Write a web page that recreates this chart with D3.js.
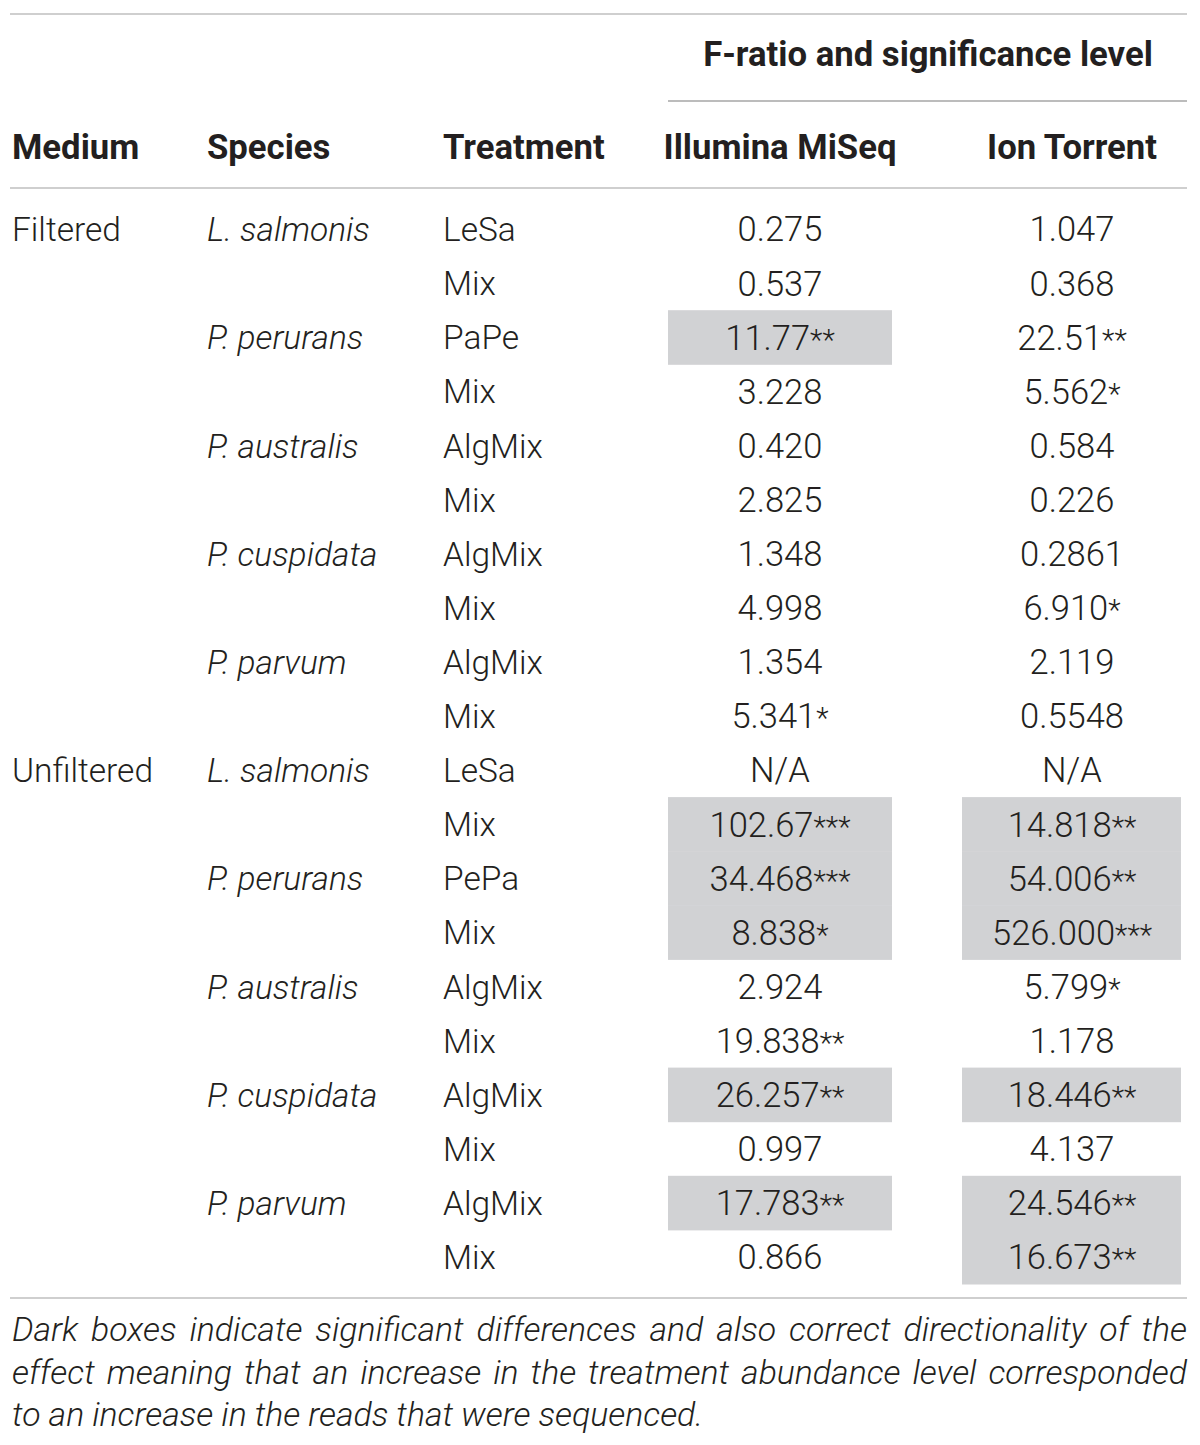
<!DOCTYPE html>
<html>
<head>
<meta charset="utf-8">
<script src="https://cdn.jsdelivr.net/npm/d3@7"></script>
<style>
  body { margin: 0; background: #fff; }
  svg text { font-family: Roboto, "Liberation Sans", sans-serif; fill: #231f20; }
  .body { font-weight: 300; font-size: 33.5px; }
  .num { font-size: 34.5px; }
  .head { font-weight: 700; font-size: 34.7px; }
  .cap { font-weight: 300; font-size: 33.8px; font-style: italic; }
</style>
</head>
<body>
<div id="chart"></div>
<script>
// table content, one entry per row
var medium = ["Filtered", "", "", "", "", "", "", "", "", "",
              "Unfiltered", "", "", "", "", "", "", "", "", ""];
var species = ["L. salmonis", "", "P. perurans", "", "P. australis", "", "P. cuspidata", "", "P. parvum", "",
               "L. salmonis", "", "P. perurans", "", "P. australis", "", "P. cuspidata", "", "P. parvum", ""];
var treatment = ["LeSa", "Mix", "PaPe", "Mix", "AlgMix", "Mix", "AlgMix", "Mix", "AlgMix", "Mix",
                 "LeSa", "Mix", "PePa", "Mix", "AlgMix", "Mix", "AlgMix", "Mix", "AlgMix", "Mix"];
var illumina = ["0.275", "0.537", "11.77", "3.228", "0.420", "2.825", "1.348", "4.998", "1.354", "5.341",
                "N/A", "102.67", "34.468", "8.838", "2.924", "19.838", "26.257", "0.997", "17.783", "0.866"];
var illuminaStars = ["", "", "**", "", "", "", "", "", "", "*",
                     "", "***", "***", "*", "", "**", "**", "", "**", ""];
var ionTorrent = ["1.047", "0.368", "22.51", "5.562", "0.584", "0.226", "0.2861", "6.910", "2.119", "0.5548",
                  "N/A", "14.818", "54.006", "526.000", "5.799", "1.178", "18.446", "4.137", "24.546", "16.673"];
var ionStars = ["", "", "**", "*", "", "", "", "*", "", "",
                "", "**", "**", "***", "*", "", "**", "", "**", "**"];
// dark boxes (significant + correct direction)
var illuminaBox = [0, 0, 1, 0, 0, 0, 0, 0, 0, 0, 0, 1, 1, 1, 0, 0, 1, 0, 1, 0];
var ionBox = [0, 0, 0, 0, 0, 0, 0, 0, 0, 0, 0, 1, 1, 1, 0, 0, 1, 0, 1, 1];

var headers = ["Medium", "Species", "Treatment", "Illumina MiSeq", "Ion Torrent"];
var groupHeader = "F-ratio and significance level";
var captionLines = [
    "Dark boxes indicate significant differences and also correct directionality of the",
    "effect meaning that an increase in the treatment abundance level corresponded",
    "to an increase in the reads that were sequenced."
];

var width = 1200, height = 1445;
var left = 10, right = 1187;

var svg = d3.select("#chart").append("svg")
    .attr("width", width)
    .attr("height", height);

// rows
var y = d3.scaleBand().domain(d3.range(treatment.length)).range([202, 1284]);

// column anchors
var col = {
    medium: 12, species: 207, treatment: 443,
    ill: 780, ion: 1072
};
var box = {
    ill: [668, 892],
    ion: [962, 1181]
};

// shaded cells
function shade(flags, key) {
    svg.selectAll("rect." + key)
        .data(flags.map(function (f, i) { return {f: f, i: i}; }).filter(function (d) { return d.f; }))
        .enter().append("rect")
        .attr("class", key)
        .attr("x", box[key][0])
        .attr("width", box[key][1] - box[key][0])
        .attr("y", function (d) { return y(d.i); })
        .attr("height", y.bandwidth() + 0.5)
        .style("fill", "#d1d2d4");
}
shade(illuminaBox, "ill");
shade(ionBox, "ion");

// rules
function rule(x1, x2, yy, color, w) {
    svg.append("line")
        .attr("x1", x1).attr("x2", x2)
        .attr("y1", yy).attr("y2", yy)
        .style("stroke", color).style("stroke-width", w);
}
rule(left, right, 14, "#cfcfcf", 2);
rule(668, right, 101, "#a6a6a6", 1.5);
rule(left, right, 188, "#cfcfcf", 2);
rule(left, right, 1298, "#cfcfcf", 2);

// headers
svg.append("text").attr("class", "head")
    .attr("x", 928).attr("y", 66)
    .attr("text-anchor", "middle")
    .text(groupHeader);

var headX = [col.medium, col.species, col.treatment, col.ill, col.ion];
svg.selectAll("text.colhead")
    .data(headers)
    .enter().append("text")
    .attr("class", "head colhead")
    .attr("x", function (d, i) { return headX[i]; })
    .attr("y", 159)
    .attr("text-anchor", function (d, i) { return i > 2 ? "middle" : "start"; })
    .text(function (d) { return d; });

// body cells
function textCol(values, x, anchor, italic) {
    svg.selectAll(null)
        .data(values)
        .enter().append("text")
        .attr("class", "body")
        .attr("x", x)
        .attr("y", function (d, i) { return y(i) + y.bandwidth() / 2; })
        .attr("dy", "0.36em")
        .attr("text-anchor", anchor)
        .style("font-style", italic ? "italic" : null)
        .text(function (d) { return d; });
}
textCol(medium, col.medium, "start", false);
textCol(species, col.species, "start", true);
textCol(treatment, col.treatment, "start", false);

function numCol(values, stars, x) {
    var t = svg.selectAll(null)
        .data(values)
        .enter().append("text")
        .attr("class", "body num")
        .attr("x", x)
        .attr("y", function (d, i) { return y(i) + y.bandwidth() / 2; })
        .attr("dy", "0.36em")
        .attr("text-anchor", "middle");
    t.append("tspan").text(function (d) { return d; });
    t.append("tspan")
        .style("font-size", "29px")
        .text(function (d, i) { return stars[i]; });
}
numCol(illumina, illuminaStars, col.ill);
numCol(ionTorrent, ionStars, col.ion);

// caption, justified by hand
captionLines.forEach(function (line, li) {
    var words = line.split(" ");
    var yy = 1341 + li * 42.5;
    var g = svg.append("g");
    var nodes = words.map(function (w) {
        return g.append("text").attr("class", "cap").attr("y", yy).text(w);
    });
    var widths = nodes.map(function (n) { return n.node().getComputedTextLength(); });
    var space = 8;
    if (li < captionLines.length - 1) {
        space = (right - 12 - d3.sum(widths)) / (words.length - 1);
    }
    var x = 12;
    nodes.forEach(function (n, i) {
        n.attr("x", x);
        x += widths[i] + space;
    });
});
</script>
</body>
</html>
